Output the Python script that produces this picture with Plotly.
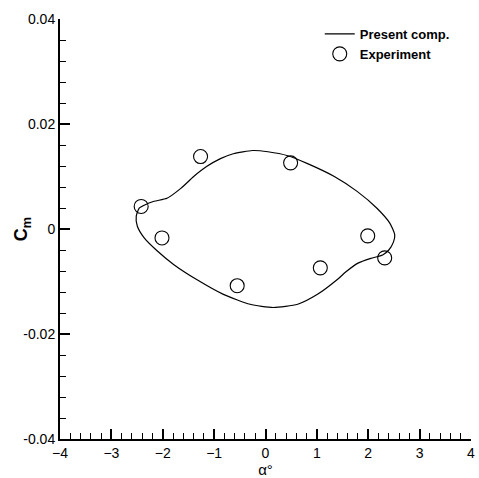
import plotly.graph_objects as go

# Computed pitching-moment hysteresis loop (alpha in degrees, Cm)
comp_alpha = [-2.458, -2.361, -2.169, -1.918, -1.648, -1.398, -1.147, -0.877,
              -0.627, -0.25, 0.048, 0.434, 0.819, 1.340, 1.783,
              2.169, 2.419, 2.516, 2.490, 2.400, 2.280, 2.050, 1.800, 1.560,
              1.398, 1.012, 0.627, 0.15, -0.30, -0.819,
              -1.340, -1.783, -2.111, -2.361, -2.496, -2.516, -2.458]
comp_cm = [0.00396, 0.00453, 0.00528, 0.00585, 0.00774, 0.01000, 0.01189, 0.01340,
           0.01434, 0.01495, 0.01472, 0.01396, 0.01245, 0.01000, 0.00717,
           0.00396, 0.00113, -0.00113, -0.00250, -0.00400, -0.00495, -0.00560, -0.00650, -0.00820,
           -0.00962, -0.01245, -0.01434, -0.01495, -0.01434, -0.01245,
           -0.00962, -0.00679, -0.00415, -0.00170, 0.00057, 0.00245, 0.00396]

# Experimental measurements
exp_alpha = [-1.264, 0.489, -2.42, -2.015, -0.551, 1.067, 1.99, 2.32]
exp_cm = [0.0138, 0.0126, 0.0043, -0.0017, -0.0108, -0.0074, -0.0013, -0.0055]

x_ticks = [-4, -3, -2, -1, 0, 1, 2, 3, 4]
y_ticks = [-0.04, -0.02, 0, 0.02, 0.04]
y_labels = ["-0.04", "-0.02", "0", "0.02", "0.04"]

FONT = "Arial, Liberation Sans, sans-serif"

fig = go.Figure()
fig.add_trace(go.Scatter(
    x=comp_alpha, y=comp_cm, mode="lines", name="Present comp.",
    line=dict(color="black", width=1.2, shape="spline", smoothing=0.6),
))
fig.add_trace(go.Scatter(
    x=exp_alpha, y=exp_cm, mode="markers", name="Experiment",
    marker=dict(symbol="circle-open", size=14, color="black", line=dict(width=1.1)),
))

axis_common = dict(
    showline=True, linecolor="black", linewidth=2, mirror=False,
    showgrid=False, zeroline=False,
    ticks="inside", ticklen=10, tickwidth=2, tickcolor="black",
    tickfont=dict(family=FONT, size=14, color="black"),
    ticklabeloverflow="allow",
)

fig.update_xaxes(
    range=[-4, 4], tickvals=x_ticks,
    minor=dict(ticks="inside", ticklen=6, tickwidth=1, tickcolor="black", dtick=0.2),
    title=dict(text="α°", font=dict(family=FONT, size=15, color="black"), standoff=3),
    **axis_common,
)
fig.update_yaxes(
    range=[-0.04, 0.04], tickvals=y_ticks, ticktext=y_labels,
    minor=dict(ticks="inside", ticklen=6, tickwidth=1, tickcolor="black", dtick=0.004),
    **axis_common,
)

# Y-axis title placed close to the tick labels
fig.add_annotation(
    text="<b>C<sub>m</sub></b>", xref="paper", yref="paper",
    x=-0.092, y=0.5, xanchor="center", yanchor="middle",
    textangle=-90, showarrow=False,
    font=dict(family=FONT, size=18, color="black"),
)

fig.update_layout(
    width=479, height=478,
    margin=dict(l=60, r=4, t=19, b=35),
    paper_bgcolor="white", plot_bgcolor="white",
    showlegend=True,
    legend=dict(
        x=0.632, y=1.0, xanchor="left", yanchor="top",
        bgcolor="rgba(0,0,0,0)", borderwidth=0,
        font=dict(family=FONT, size=13, color="black", weight="bold"),
        tracegroupgap=0, itemwidth=30,
    ),
)

fig.write_html("out.html")
